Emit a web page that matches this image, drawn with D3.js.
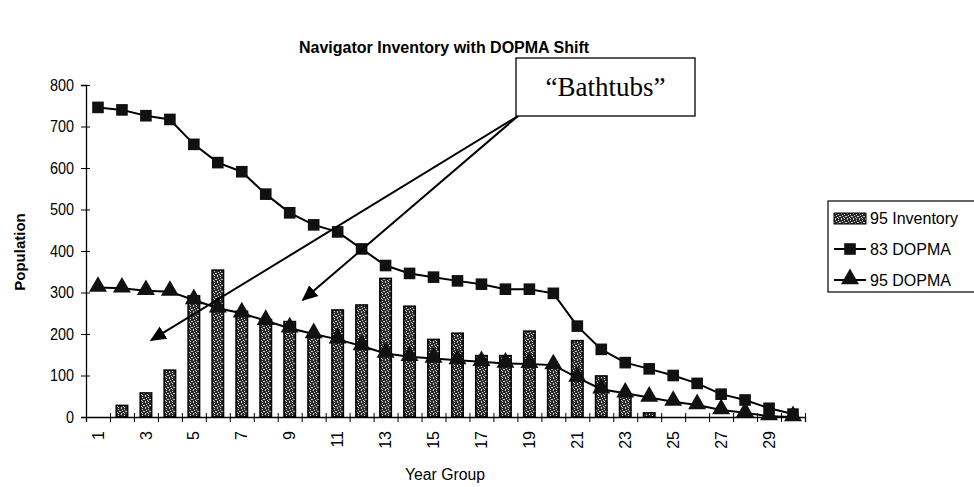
<!DOCTYPE html>
<html>
<head>
<meta charset="utf-8">
<script src="https://cdn.jsdelivr.net/npm/d3@7"></script>
<style>
  html, body { margin: 0; padding: 0; background: #fff; }
  svg { display: block; }
  text { fill: #000; }
</style>
</head>
<body>
<div id="chart"></div>
<script>
// --- data ---
const yearGroups = [1, 2, 3, 4, 5, 6, 7, 8, 9, 10, 11, 12, 13, 14, 15,
                    16, 17, 18, 19, 20, 21, 22, 23, 24, 25, 26, 27, 28, 29, 30];
const inventory95 = [0, 28, 58, 113, 292, 354, 255, 235, 230, 193, 258, 270, 334, 267, 187,
                     202, 148, 148, 207, 125, 184, 99, 55, 10, 0, 0, 0, 0, 0, 0];
const dopma83 = [746, 740, 726, 717, 657, 613, 591, 537, 492, 463, 446, 405, 365, 346, 337,
                 328, 320, 308, 308, 298, 219, 163, 131, 116, 100, 81, 55, 41, 21, 7];
const dopma95 = [312, 310, 304, 302, 282, 262, 250, 232, 214, 200, 187, 171, 153, 145, 141,
                 137, 133, 129, 128, 125, 95, 67, 57, 47, 37, 29, 17, 10, 2, 0];
const yTicks = [0, 100, 200, 300, 400, 500, 600, 700, 800];
const legendLabels = ["95 Inventory", "83 DOPMA", "95 DOPMA"];

const W = 974, H = 487;
const plot = { left: 86, right: 805, top: 85, bottom: 417 };

const svg = d3.select("#chart").append("svg")
    .attr("width", W)
    .attr("height", H);

// speckled fill for the bars (old halftone look)
const defs = svg.append("defs");
const pat = defs.append("pattern")
    .attr("id", "speckle")
    .attr("patternUnits", "userSpaceOnUse")
    .attr("width", 6)
    .attr("height", 6);
pat.append("rect").attr("width", 6).attr("height", 6).attr("fill", "#2a2a2a");
[[1, 0], [4, 1], [2, 2], [0, 3], [5, 3], [3, 4], [1, 5], [4, 5]].forEach(([px, py]) => {
    pat.append("rect").attr("x", px).attr("y", py).attr("width", 1).attr("height", 1).attr("fill", "#d0d0d0");
});

const x = d3.scaleBand()
    .domain(yearGroups)
    .range([plot.left, plot.right])
    .paddingInner(0.52)
    .paddingOuter(0.26);

// same categories as a continuous scale, to place the boundary tick marks
const xEdge = d3.scaleLinear()
    .domain([0, yearGroups.length])
    .range([plot.left, plot.right]);

const y = d3.scaleLinear()
    .domain([0, 800])
    .range([plot.bottom, plot.top]);

const cx = d => x(d) + x.bandwidth() / 2;

// title
svg.append("text")
    .attr("x", 444)
    .attr("y", 53)
    .attr("text-anchor", "middle")
    .style("font-family", "Liberation Sans, Arial, sans-serif")
    .style("font-weight", "bold")
    .style("font-size", "16px")
    .text("Navigator Inventory with DOPMA Shift");

// bars
svg.append("g")
    .selectAll("rect")
    .data(yearGroups.map((g, i) => ({ g, v: inventory95[i] })).filter(d => d.v > 0))
    .join("rect")
    .attr("x", d => x(d.g))
    .attr("width", x.bandwidth())
    .attr("y", d => y(d.v))
    .attr("height", d => y(0) - y(d.v))
    .attr("fill", "url(#speckle)")
    .attr("stroke", "#000")
    .attr("stroke-width", 1.5);

// y axis
const gY = svg.append("g")
    .attr("transform", `translate(${plot.left},0)`)
    .call(d3.axisLeft(y).tickValues(yTicks).tickSize(5).tickPadding(7));
gY.select(".domain").attr("stroke", "#000").attr("stroke-width", 1.3);
gY.selectAll(".tick line").attr("x2", -5).attr("x1", 4).attr("stroke", "#000");
gY.selectAll(".tick text")
    .style("font-family", "Liberation Sans, Arial, sans-serif")
    .style("font-size", "16px")
    .attr("textLength", function () { return this.getComputedTextLength() * 0.9; })
    .attr("lengthAdjust", "spacingAndGlyphs");

// x axis: tick marks on category boundaries
const gX = svg.append("g")
    .attr("transform", `translate(0,${plot.bottom})`)
    .call(d3.axisBottom(xEdge).tickValues(d3.range(0, yearGroups.length + 1)).tickSize(5).tickFormat(""));
gX.select(".domain").attr("stroke", "#000").attr("stroke-width", 1.3);
gX.selectAll(".tick line").attr("y1", -4).attr("y2", 5).attr("stroke", "#000");

// x labels, every other year group, rotated
const gXL = svg.append("g")
    .attr("transform", `translate(0,${plot.bottom})`)
    .call(d3.axisBottom(x).tickSize(0).tickFormat(d => d % 2 === 1 ? d : ""));
gXL.select(".domain").remove();
gXL.selectAll(".tick text")
    .attr("transform", "rotate(-90)")
    .attr("x", -14)
    .attr("y", 0)
    .attr("dy", "0.35em")
    .attr("text-anchor", "end")
    .style("font-family", "Liberation Sans, Arial, sans-serif")
    .style("font-size", "16px");

// axis titles
svg.append("text")
    .attr("transform", "translate(25,252) rotate(-90)")
    .attr("text-anchor", "middle")
    .style("font-family", "Liberation Sans, Arial, sans-serif")
    .style("font-weight", "bold")
    .style("font-size", "15px")
    .text("Population");

svg.append("text")
    .attr("x", 445)
    .attr("y", 480)
    .attr("text-anchor", "middle")
    .style("font-family", "Liberation Sans, Arial, sans-serif")
    .style("font-size", "16px")
    .attr("textLength", 80)
    .attr("lengthAdjust", "spacingAndGlyphs")
    .text("Year Group");

// lines
const line = d3.line().x((d, i) => cx(yearGroups[i])).y(d => y(d));

[dopma83, dopma95].forEach(series => {
    svg.append("path")
        .datum(series)
        .attr("fill", "none")
        .attr("stroke", "#000")
        .attr("stroke-width", 2)
        .attr("d", line);
});

const sq = d3.symbol().type(d3.symbolSquare).size(135);
const tri = d3.symbol().type(d3.symbolTriangle).size(140);

svg.append("g")
    .selectAll("path")
    .data(dopma83)
    .join("path")
    .attr("transform", (d, i) => `translate(${cx(yearGroups[i])},${y(d)})`)
    .attr("d", sq)
    .attr("fill", "#111");

svg.append("g")
    .selectAll("path")
    .data(dopma95)
    .join("path")
    .attr("transform", (d, i) => `translate(${cx(yearGroups[i])},${y(d) - 1})`)
    .attr("d", tri)
    .attr("fill", "#111");

// "Bathtubs" callout
const box = { x: 516, y: 58, w: 179, h: 58 };
const tipA = { g: 2.72, v: 185 };
const tipB = { g: 9.05, v: 282 };

defs.append("marker")
    .attr("id", "arrow")
    .attr("viewBox", "0 0 10 10")
    .attr("refX", 9)
    .attr("refY", 5)
    .attr("markerWidth", 8)
    .attr("markerHeight", 8)
    .attr("orient", "auto")
    .append("path")
    .attr("d", "M0,0.5 L10,5 L0,9.5 Z")
    .attr("fill", "#000");

[tipA, tipB].forEach(t => {
    svg.append("line")
        .attr("x1", box.x + 2)
        .attr("y1", box.y + box.h)
        .attr("x2", xEdge(t.g))
        .attr("y2", y(t.v))
        .attr("stroke", "#000")
        .attr("stroke-width", 2)
        .attr("marker-end", "url(#arrow)");
});

svg.append("rect")
    .attr("x", box.x)
    .attr("y", box.y)
    .attr("width", box.w)
    .attr("height", box.h)
    .attr("fill", "#fff")
    .attr("stroke", "#000")
    .attr("stroke-width", 1.3);

svg.append("text")
    .attr("x", box.x + box.w / 2)
    .attr("y", box.y + 38)
    .attr("text-anchor", "middle")
    .style("font-family", "Liberation Serif, Times New Roman, serif")
    .style("font-size", "27px")
    .text("\u201CBathtubs\u201D");

// legend
const lg = svg.append("g").attr("transform", "translate(828,201)");
lg.append("rect")
    .attr("width", 160)
    .attr("height", 91)
    .attr("fill", "#fff")
    .attr("stroke", "#000")
    .attr("stroke-width", 1.2);

const rowY = [17, 48, 79];
lg.append("rect")
    .attr("x", 6).attr("y", rowY[0] - 5)
    .attr("width", 32).attr("height", 11)
    .attr("fill", "url(#speckle)")
    .attr("stroke", "#000");
[1, 2].forEach(k => {
    lg.append("line")
        .attr("x1", 6).attr("x2", 38)
        .attr("y1", rowY[k]).attr("y2", rowY[k])
        .attr("stroke", "#000").attr("stroke-width", 2);
    lg.append("path")
        .attr("transform", `translate(22,${rowY[k] - (k === 2 ? 1 : 0)})`)
        .attr("d", k === 1 ? sq : tri)
        .attr("fill", "#111");
});
lg.selectAll("text.lbl")
    .data(legendLabels)
    .join("text")
    .attr("class", "lbl")
    .attr("x", 42)
    .attr("y", (d, i) => rowY[i])
    .attr("dy", "0.35em")
    .style("font-family", "Liberation Sans, Arial, sans-serif")
    .style("font-size", "16px")
    .attr("textLength", function () { return this.getComputedTextLength() * 0.92; })
    .attr("lengthAdjust", "spacingAndGlyphs")
    .text(d => d);
</script>
</body>
</html>
